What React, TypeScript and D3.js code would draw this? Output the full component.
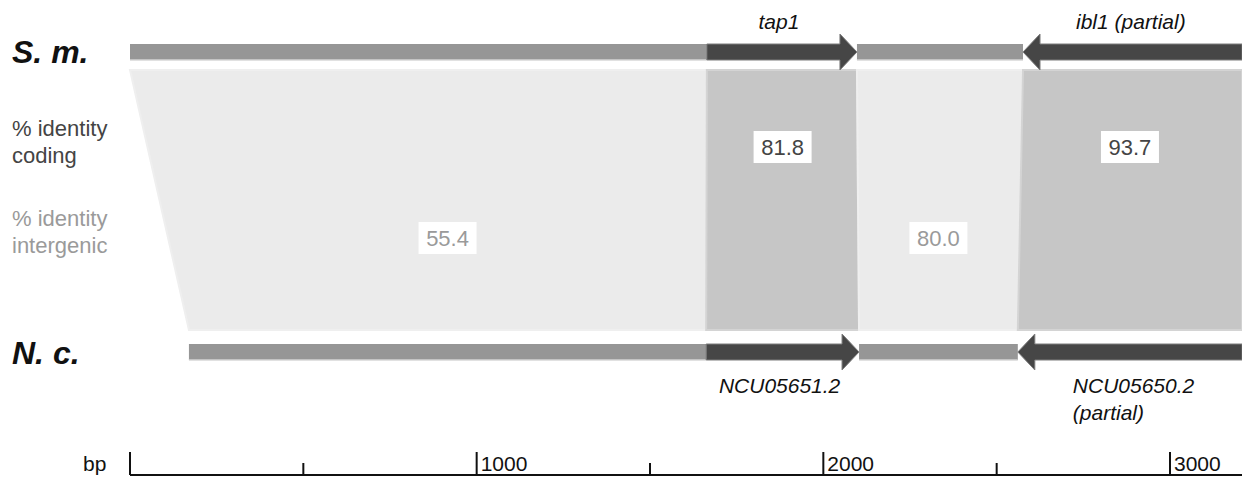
import React, { useEffect } from "react";
import * as d3 from "d3";

// segments along each sequence, in bp
const smSegments = [
  { kind: "intergenic", start: 0, end: 1664 },
  { kind: "gene", name: "tap1", start: 1664, end: 2097, strand: 1 },
  { kind: "intergenic", start: 2097, end: 2576 },
  { kind: "gene", name: "ibl1 (partial)", start: 2576, end: 3208, strand: -1 },
];
const ncSegments = [
  { kind: "intergenic", start: 170, end: 1662 },
  { kind: "gene", name: "NCU05651.2", start: 1662, end: 2103, strand: 1 },
  { kind: "intergenic", start: 2103, end: 2561 },
  { kind: "gene", name: "NCU05650.2|(partial)", start: 2561, end: 3208, strand: -1 },
];
const identity = [55.4, 81.8, 80.0, 93.7];
const majorTicks = [0, 1000, 2000, 3000];
const minorTicks = [500, 1500, 2500];

const W = 1242;
const H = 477;
const FONT = "'Liberation Sans', Arial, sans-serif";

const x = d3.scaleLinear().domain([0, 3000]).range([130, 1170]);

const smY = 52;
const ncY = 352;
const barH = 16;
const headLen = 17;
const headHalf = 18;
const alignTop = 70;
const alignBottom = 330;

const arrowPath = (s: number, e: number, cy: number, strand: number) => {
  const p = d3.path();
  const b = barH / 2;
  if (strand > 0) {
    p.moveTo(s, cy - b);
    p.lineTo(e - headLen, cy - b);
    p.lineTo(e - headLen, cy - headHalf);
    p.lineTo(e, cy);
    p.lineTo(e - headLen, cy + headHalf);
    p.lineTo(e - headLen, cy + b);
    p.lineTo(s, cy + b);
  } else {
    p.moveTo(e, cy - b);
    p.lineTo(s + headLen, cy - b);
    p.lineTo(s + headLen, cy - headHalf);
    p.lineTo(s, cy);
    p.lineTo(s + headLen, cy + headHalf);
    p.lineTo(s + headLen, cy + b);
    p.lineTo(e, cy + b);
  }
  p.closePath();
  return p.toString();
};

const Track = ({ segs, cy }: { segs: typeof smSegments; cy: number }) => (
  <g>
    {segs.map((d, i) =>
      d.kind === "intergenic" ? (
        <g key={i}>
          <rect x={x(d.start)} y={cy - barH / 2} width={x(d.end) - x(d.start)} height={barH} fill="#969696" />
          <rect x={x(d.start)} y={cy + barH / 2 - 1} width={x(d.end) - x(d.start)} height={1.5} fill="#c4c4c4" />
        </g>
      ) : (
        <path key={i} d={arrowPath(x(d.start), x(d.end), cy, d.strand as number)} fill="#464646" stroke="#7c7c7c" strokeWidth={1} />
      )
    )}
  </g>
);

export default function App() {
  useEffect(() => {
    document.body.style.margin = "0";
  }, []);

  const regions = smSegments.map((s, i) => {
    const n = ncSegments[i];
    const pts: [number, number][] = [
      [x(s.start), alignTop],
      [x(s.end), alignTop],
      [x(n.end), alignBottom],
      [x(n.start), alignBottom],
    ];
    return { kind: s.kind, pts, mid: x((n.start + n.end) / 2), value: identity[i] };
  });

  const line = d3.line();

  return (
    <svg width={W} height={H} style={{ display: "block", fontFamily: FONT }}>
      <rect width={W} height={H} fill="#fff" />

      {/* alignment blocks */}
      {regions.map((r, i) => (
        <path
          key={i}
          d={line(r.pts) + "Z"}
          fill={r.kind === "gene" ? "#c6c6c6" : "#ebebeb"}
          stroke={r.kind === "gene" ? "#d4d4d4" : "#efefef"}
          strokeWidth={2}
        />
      ))}

      {regions.map((r, i) => {
        const cy = r.kind === "gene" ? 147 : 238;
        const label = r.value.toFixed(1);
        return (
          <g key={"v" + i}>
            <rect x={r.mid - 29} y={cy - 16} width={58} height={32} fill="#fff" />
            <text
              x={r.mid}
              y={cy + 8}
              textAnchor="middle"
              fontSize={22}
              fill={r.kind === "gene" ? "#444" : "#9a9a9a"}
            >
              {label}
            </text>
          </g>
        );
      })}

      <Track segs={smSegments} cy={smY} />
      <Track segs={ncSegments} cy={ncY} />

      {/* species labels */}
      <text x={12} y={63} fontSize={32} fontWeight="bold" fontStyle="italic" fill="#111">S. m.</text>
      <text x={12} y={364} fontSize={32} fontWeight="bold" fontStyle="italic" fill="#111">N. c.</text>

      <text fontSize={22} fill="#444">
        <tspan x={12} y={136}>% identity</tspan>
        <tspan x={12} y={163}>coding</tspan>
      </text>
      <text fontSize={22} fill="#9a9a9a">
        <tspan x={12} y={226}>% identity</tspan>
        <tspan x={12} y={253}>intergenic</tspan>
      </text>

      {/* gene names */}
      <text x={x((smSegments[1].start + smSegments[1].end) / 2) - 3} y={29} textAnchor="middle" fontSize={21} fontStyle="italic" fill="#111">
        {smSegments[1].name}
      </text>
      <text x={x(smSegments[3].start) + 53} y={29} fontSize={21} fontStyle="italic" fill="#111">
        {smSegments[3].name}
      </text>
      <text x={x((ncSegments[1].start + ncSegments[1].end) / 2) - 3} y={393} textAnchor="middle" fontSize={21} fontStyle="italic" fill="#111">
        {ncSegments[1].name}
      </text>
      <text fontSize={21} fontStyle="italic" fill="#111">
        {ncSegments[3].name!.split("|").map((t, i) => (
          <tspan key={i} x={x(ncSegments[3].start) + 55} y={393 + i * 27}>{t}</tspan>
        ))}
      </text>

      {/* scale bar */}
      <g stroke="#111" strokeWidth={2}>
        <line x1={x(0)} x2={W} y1={475} y2={475} />
        {majorTicks.map((t) => (
          <line key={t} x1={x(t)} x2={x(t)} y1={452} y2={475} />
        ))}
        {minorTicks.map((t) => (
          <line key={t} x1={x(t)} x2={x(t)} y1={463} y2={475} />
        ))}
      </g>
      {majorTicks.filter((t) => t > 0).map((t) => (
        <text key={t} x={x(t) + 4} y={471} fontSize={21} fill="#111">{t}</text>
      ))}
      <text x={83} y={471} fontSize={21} fill="#111">bp</text>
    </svg>
  );
}
